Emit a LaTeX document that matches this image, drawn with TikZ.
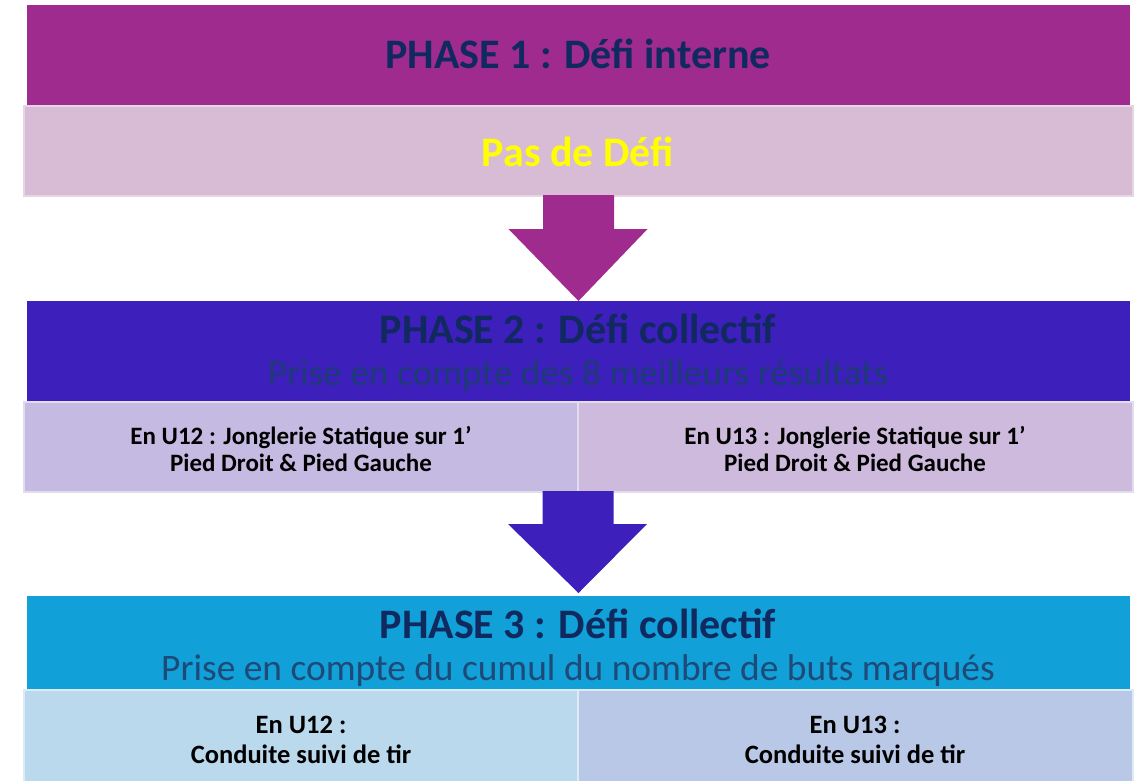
\documentclass[tikz,border=0pt]{standalone}
\usepackage{fontspec}
\setmainfont{Carlito}
\usetikzlibrary{calc}
\definecolor{pone}{HTML}{A02B8F}
\definecolor{ponebox}{HTML}{D8BBD5}
\definecolor{poneedge}{HTML}{E6D5E3}
\definecolor{ptwo}{HTML}{3D1FBB}
\definecolor{ptwoL}{HTML}{C5BAE2}
\definecolor{ptwoR}{HTML}{CEBADD}
\definecolor{ptwoedge}{HTML}{E2DCEF}
\definecolor{pthree}{HTML}{11A0D7}
\definecolor{pthreeL}{HTML}{BBD9EC}
\definecolor{pthreeR}{HTML}{B9C8E6}
\definecolor{pthreeedge}{HTML}{DDEBF5}
\definecolor{navy}{HTML}{10295E}
\definecolor{subtwo}{HTML}{1F3A78}
\definecolor{subthree}{HTML}{1D4A78}
\definecolor{yel}{HTML}{FFFF00}
\begin{document}
\begin{tikzpicture}[x=1pt,y=-1pt,
  box/.style={anchor=north west, inner sep=0pt, outer sep=0pt, minimum width=#1},
  title/.style={font=\fontsize{42}{48}\selectfont\bfseries, text=navy, inner sep=0pt, anchor=base},
  subtitle/.style={font=\fontsize{37.4}{42}\selectfont, inner sep=0pt, anchor=base},
  cell/.style={font=\fontsize{25}{27}\selectfont\bfseries, align=center, inner sep=0pt, text=black},
  cellb/.style={font=\fontsize{26.5}{30}\selectfont\bfseries, align=center, inner sep=0pt, text=black}]
\useasboundingbox (0,0) rectangle (1138,780);
% Phase 1
\node[box=1103pt, minimum height=101pt, fill=pone] (h1) at (27,5) {};
\node[box=1109pt, minimum height=90pt, fill=ponebox, draw=poneedge, line width=2pt] (b1) at (24,106) {};
\node[title] (t1) at (578,68) {PHASE 1 : Défi interne};
\node[title, text=yel] (t1b) at (578,166.5) {Pas de Défi};
% Phase 2
\node[box=1103pt, minimum height=101pt, fill=ptwo] (h2) at (27,301) {};
\node[box=554pt, minimum height=90pt, fill=ptwoL, draw=ptwoedge, line width=2pt] (c2l) at (24,402) {};
\node[box=555pt, minimum height=90pt, fill=ptwoR, draw=ptwoedge, line width=2pt] (c2r) at (578,402) {};
\node[title] (t2) at (578,343.5) {PHASE 2 : Défi collectif};
\node[subtitle, text=subtwo] (s2) at (578,385) {Prise en compte des 8 meilleurs résultats};
\node[cell] (x2l) at (301,448.5) {En U12 : Jonglerie Statique sur 1’\\Pied Droit \& Pied Gauche};
\node[cell] (x2r) at (855,448.5) {En U13 : Jonglerie Statique sur 1’\\Pied Droit \& Pied Gauche};
% Phase 3
\node[box=1103pt, minimum height=94pt, fill=pthree] (h3) at (27,596) {};
\node[box=554pt, minimum height=92pt, fill=pthreeL, draw=pthreeedge, line width=2pt] (c3l) at (24,690) {};
\node[box=555pt, minimum height=92pt, fill=pthreeR, draw=pthreeedge, line width=2pt] (c3r) at (578,690) {};
\node[title] (t3) at (578,638.5) {PHASE 3 : Défi collectif};
\node[subtitle, text=subthree] (s3) at (578,680) {Prise en compte du cumul du nombre de buts marqués};
\node[cellb] (x3l) at (301,740) {En U12 :\\Conduite suivi de tir};
\node[cellb] (x3r) at (855,740) {En U13 :\\Conduite suivi de tir};
% Arrows
\fill[pone] ($(b1.south)+(-35.5,-1)$) -- ($(b1.south)+(35.5,-1)$) -- ($(b1.south)+(35.5,33)$) -- ($(b1.south)+(69,33)$)
  -- (h2.north) -- ($(b1.south)+(-70,33)$) -- ($(b1.south)+(-35.5,33)$) -- cycle;
\fill[ptwo] ($(c2l.south east)+(-35.5,-1)$) -- ($(c2l.south east)+(35.5,-1)$) -- ($(c2l.south east)+(35.5,32)$) -- ($(c2l.south east)+(69,32)$)
  -- ($(h3.north)+(0,-3)$) -- ($(c2l.south east)+(-70,32)$) -- ($(c2l.south east)+(-35.5,32)$) -- cycle;
\end{tikzpicture}
\end{document}
